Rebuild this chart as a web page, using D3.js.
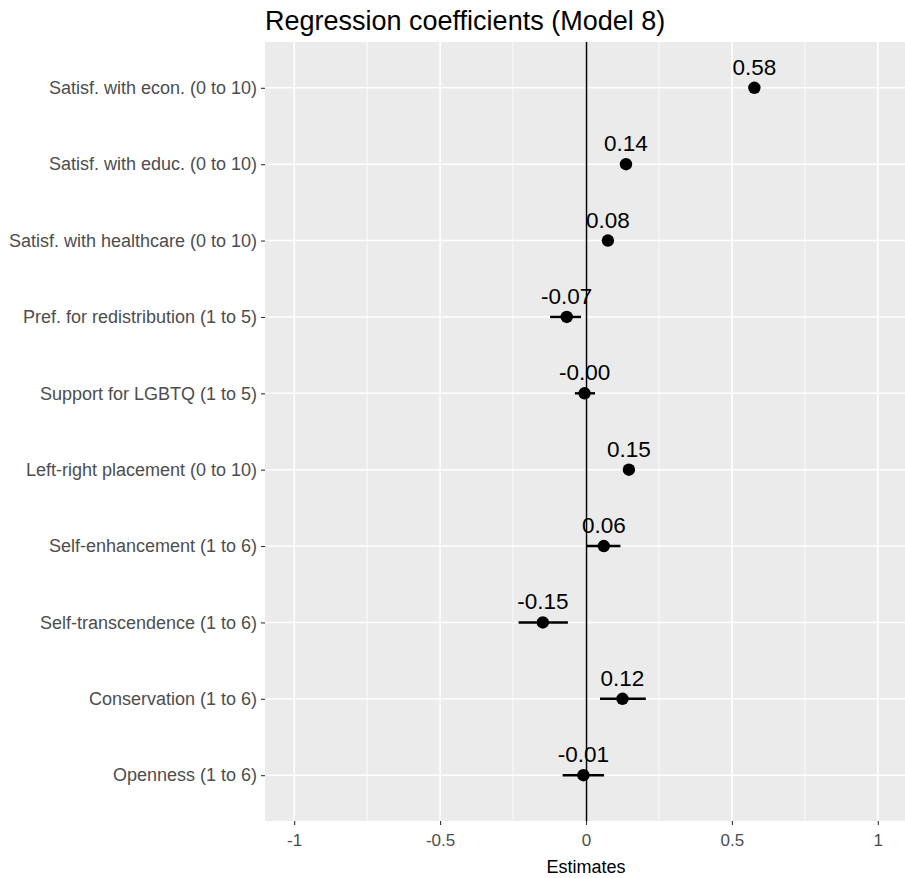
<!DOCTYPE html>
<html><head><meta charset="utf-8">
<script src="https://cdn.jsdelivr.net/npm/d3@7"></script>
<style>body{margin:0;background:#fff}svg{display:block}</style>
</head><body><svg id="c" width="905" height="878"></svg>
<script>
const categories = ["Satisf. with econ. (0 to 10)","Satisf. with educ. (0 to 10)","Satisf. with healthcare (0 to 10)","Pref. for redistribution (1 to 5)","Support for LGBTQ (1 to 5)","Left-right placement (0 to 10)","Self-enhancement (1 to 6)","Self-transcendence (1 to 6)","Conservation (1 to 6)","Openness (1 to 6)"];
const estimates = [0.577, 0.137, 0.075, -0.066, -0.005, 0.147, 0.061, -0.148, 0.125, -0.009];
const lower = [0.567, 0.127, 0.065, -0.123, -0.038, 0.137, 0.002, -0.231, 0.048, -0.080];
const upper = [0.587, 0.147, 0.085, -0.017, 0.031, 0.157, 0.118, -0.062, 0.205, 0.062];
const labels = ["0.58","0.14","0.08","-0.07","-0.00","0.15","0.06","-0.15","0.12","-0.01"];
const xTicks = [-1, -0.5, 0, 0.5, 1];
const xMinor = [-0.75, -0.25, 0.25, 0.75];

const svg = d3.select("#c");
const L = 265, R = 907, T = 42, B = 821;
const x = d3.scaleLinear().domain([-1.1, 1.1]).range([L, R]);
const y = d3.scalePoint().domain(categories).range([T, B]).padding(0.6);
const font = "'Liberation Sans', Arial, sans-serif";

svg.append("rect").attr("x", L).attr("y", T).attr("width", R - L).attr("height", B - T).attr("fill", "#ebebeb");
const g = svg.append("g");
g.selectAll(".minor").data(xMinor).join("line")
  .attr("x1", d => x(d)).attr("x2", d => x(d)).attr("y1", T).attr("y2", B)
  .attr("stroke", "#fff").attr("stroke-width", 0.8);
g.selectAll(".major").data(xTicks).join("line")
  .attr("x1", d => x(d)).attr("x2", d => x(d)).attr("y1", T).attr("y2", B)
  .attr("stroke", "#fff").attr("stroke-width", 1.6);
g.selectAll(".hmajor").data(categories).join("line")
  .attr("x1", L).attr("x2", R).attr("y1", d => y(d)).attr("y2", d => y(d))
  .attr("stroke", "#fff").attr("stroke-width", 1.6);

// zero line
svg.append("line").attr("x1", Math.round(x(0)) + 0.5).attr("x2", Math.round(x(0)) + 0.5).attr("y1", T).attr("y2", B)
  .attr("stroke", "#000").attr("stroke-width", 1.5);

// axes
const xAxis = d3.axisBottom(x).tickValues(xTicks).tickSize(4).tickPadding(9)
  .tickFormat(d => d === 0 ? "0" : String(d));
const xg = svg.append("g").attr("transform", `translate(0,${B})`).call(xAxis);
xg.select(".domain").remove();
xg.selectAll("line").attr("stroke", "#333").attr("stroke-width", 1.1);
xg.selectAll("text").attr("fill", "#4d4d4d").style("font-family", font).style("font-size", "17px");

const yAxis = d3.axisLeft(y).tickSize(4).tickPadding(4);
const yg = svg.append("g").attr("transform", `translate(${L},0)`).call(yAxis);
yg.select(".domain").remove();
yg.selectAll("line").attr("stroke", "#333").attr("stroke-width", 1.1);
yg.selectAll("text").attr("fill", "#4d4d4d").style("font-family", font).style("font-size", "18px");

// error bars
const data = categories.map((c, i) => ({c, e: estimates[i], lo: lower[i], hi: upper[i], lab: labels[i]}));
svg.selectAll(".eb").data(data).join("line")
  .attr("x1", d => x(d.lo)).attr("x2", d => x(d.hi))
  .attr("y1", d => y(d.c)).attr("y2", d => y(d.c))
  .attr("stroke", "#000").attr("stroke-width", 2.4);
svg.selectAll(".pt").data(data).join("circle")
  .attr("cx", d => x(d.e)).attr("cy", d => y(d.c)).attr("r", 6.2).attr("fill", "#000");
svg.selectAll(".lab").data(data).join("text")
  .attr("x", d => x(d.e)).attr("y", d => y(d.c) - 13)
  .attr("text-anchor", "middle").attr("fill", "#000")
  .style("font-family", font).style("font-size", "22.5px").text(d => d.lab);

svg.append("text").attr("x", L).attr("y", 30).attr("fill", "#000")
  .style("font-family", font).style("font-size", "27px").text("Regression coefficients (Model 8)");
svg.append("text").attr("x", x(0)).attr("y", 873).attr("text-anchor", "middle").attr("fill", "#000")
  .style("font-family", font).style("font-size", "18px").text("Estimates");
</script></body></html>
